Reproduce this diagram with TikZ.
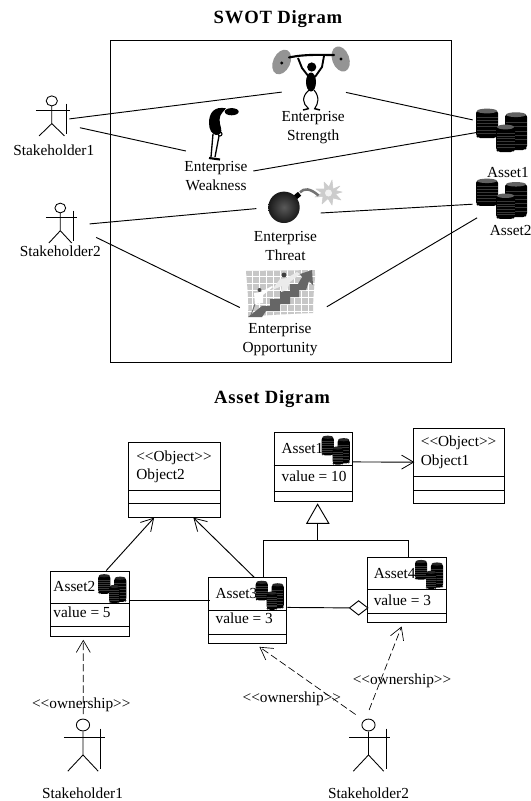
\documentclass[tikz,border=0pt]{standalone}
\usepackage{fontspec}
\setmainfont{Liberation Serif}
\usetikzlibrary{arrows.meta,calc}
\def\px{.75pt}
\tikzset{
  lbl/.style={inner sep=0pt,font=\fontsize{11.5}{13.8}\selectfont,text height=8pt,text depth=2.5pt},
  two/.style={inner sep=0pt,font=\fontsize{11.5}{14.2}\selectfont,align=center},
  ttl/.style={inner sep=0pt,font=\fontsize{14}{16}\bfseries\addfontfeature{LetterSpace=4}},
  ghost/.style={inner sep=0pt,minimum width=30*\px,minimum height=30*\px},
  classbox/.style={draw=black,line width=.7pt,inner sep=0pt,fill=white},
  conn/.style={draw=black,line width=.7pt},
  open/.style={conn,-{Straight Barb[length=9pt,width=10.5pt,line width=.6pt]}},
  dep/.style={draw=black,line width=.5pt,-{Straight Barb[length=9pt,width=10.5pt,line width=.5pt]},dash pattern=on 5.5pt off 2.5pt},
  fig/.style={draw=black,line width=.65pt}
}
\newcommand\actorfig[5]{%
  \draw[fig] (#1,#2) ellipse [x radius=#5,y radius=#5*.9];
  \begin{scope}[shift={(#1,#2)},xscale=#3,yscale=#4]
    \draw[fig] (0,5) -- (0,22.7) -- (-12.7,35);
    \draw[fig] (0,22.7) -- (12.7,35);
    \draw[fig] (-16,9.5) -- (18,9.5);
    \draw[fig] (14.6,2.7) -- (14.6,33);
  \end{scope}}
\newcommand\stack[5]{% x0 x1 y0 y1 topcolour
  \fill[black,rounded corners=1.6] (#1,#3+2) -- (#1,#4-2) -- (#1+2,#4) -- (#2-2,#4) -- (#2,#4-2) -- (#2,#3+2) -- cycle;
  \fill[#5] ({(#1+#2)/2},#3+2) ellipse [x radius={(#2-#1)/2-1},y radius=2.4];
  \foreach \k in {1,...,6}{\draw[black!78,line width=.2pt] (#1+.5,{#3+5+(#4-#3-7)*\k/7}) -- (#2-.5,{#3+5+(#4-#3-7)*\k/7});}}
\newcommand\coinsfig[5]{%
  \begin{scope}[shift={(#1,#2)},xscale=#3,yscale=#4]
    \stack{0}{22}{0}{29}{#5}
    \stack{29}{51}{3.7}{41}{#5}
    \stack{20}{39}{16}{43}{#5}
  \end{scope}}
\newcommand\divider[2]{\draw[classbox,fill=none] ([yshift=-#2*\px]#1.north west) -- ([yshift=-#2*\px]#1.north east);}
\begin{document}
\begin{tikzpicture}[x=.75pt,y=-.75pt]
\useasboundingbox (0,0) rectangle (531,801);
\fill[white] (0,0) rectangle (531,801);

%% ---------- SWOT ----------
\node[ttl] (swotTitle) at (278,18.6) {SWOT Digram};
\node[draw=black,line width=.8pt,inner sep=0pt,minimum width=341.4*\px,minimum height=322.7*\px] (frame) at (281,201.4) {};

\node[ghost] (a1) at (52,118) {};
\node[ghost] (a2) at (60,226) {};
\node[ghost] (strength) at (313,75) {};
\node[ghost] (coinsA) at (502,130) {};
\node[ghost] (coinsB) at (502,199) {};
\node[ghost] (threat) at (292,205) {};
\node[ghost] (opp) at (281,294) {};

\actorfig{51.8}{100.9}{1}{1}{5.6}
\actorfig{60.3}{208}{.9}{1}{5.4}
\node[lbl] (s1lab) at (53.8,151.5) {Stakeholder1};
\node[lbl] (s2lab) at (60.3,253) {Stakeholder2};

% weightlifter
\begin{scope}
  \fill[black!42] (281.7,62) ellipse [x radius=8.5,y radius=13,rotate=-25];
  \fill[black!42] (340.7,59) ellipse [x radius=8.5,y radius=13,rotate=20];
  \fill[black] (281.8,63) circle [radius=1.6];
  \fill[black] (341,59) circle [radius=1.6];
  \draw[black,line width=1.6pt,line cap=round] (289,57.5) .. controls (305,54) and (320,55) .. (334,55);
  \draw[black,line width=1.4pt,line join=round] (298,58) -- (302,68) -- (309,77);
  \draw[black,line width=1.4pt,line join=round] (324,56) -- (322,67) -- (315,77);
  \fill[black] (311.7,67) circle [radius=4.6];
  \fill[black] (311,82) ellipse [x radius=5,y radius=9.5];
  \draw[black,line width=.8pt] (309,90) .. controls (301,97) and (303,104) .. (308,108);
  \draw[black,line width=.8pt] (314,90) .. controls (320,97) and (318,104) .. (315,108);
  \draw[black,line width=1.1pt] (303,110) -- (309,108.5);
  \draw[black,line width=1.1pt] (314,108.5) -- (320,110);
\end{scope}
\node[two] (strengthLab) at (313.2,128) {Enterprise\\Strength};

% bowed figure
\begin{scope}
  \fill[black] (231.7,111.7) ellipse [x radius=7,y radius=3.6];
  \fill[black] (226,108.3) .. controls (214,106) and (209,113) .. (209,123)
     .. controls (209,130) and (212,134) .. (216,135)
     .. controls (221,135) and (222,132) .. (221,128)
     .. controls (219,122) and (219,116) .. (222,113) -- cycle;
  \draw[black,line width=.8pt] (220,134) circle [radius=2];
  \draw[black,line width=1pt] (213,134) -- (211,157);
  \draw[black,line width=1pt] (219,136) -- (215,157);
  \draw[black,line width=1.6pt] (209,158) -- (220,159.5);
\end{scope}
\node[two] (weakness) at (216,176.5) {Enterprise\\Weakness};

\coinsfig{476}{109}{1}{1}{black!62}
\coinsfig{476}{179}{1}{.93}{black!62}
\node[lbl] (asset1lab) at (508,174) {Asset1};
\node[lbl] (asset2lab) at (510.7,232.3) {Asset2};

% bomb
\begin{scope}
  \fill[black!20,line join=round,draw=black!20,line width=.4pt]
    (340,186) -- (333,189) -- (332,180) -- (329,187) -- (324,182) -- (324.5,189) -- (316,189) -- (322,193) -- (315,197)
    -- (323,196.5) -- (322,204) -- (328,198.5) -- (332,205) -- (333,198) -- (341,200) -- (335.5,194) -- (342,192) -- (335.5,190.5) -- cycle;
  \fill[black!5] (328.5,193) circle [radius=3.5];
  \draw[black!55,line width=1.9pt] (300,192.3) .. controls (304,188) and (310,188) .. (318.5,195.5);
  \fill[black,rotate around={40:(297.3,195.7)}] (294.3,193.2) rectangle (300.3,198.2);
  \shade[inner color=black!65,outer color=black!90] (284,207.3) circle [radius=15.7];
\end{scope}
\node[two] (threatLab) at (285.5,246) {Enterprise\\Threat};

% opportunity clip art
\begin{scope}
  \path[fill=black!22] (246,271) -- (316,270) .. controls (314,285) and (313,300) .. (313,313)
     .. controls (290,314) and (265,315) .. (248,317) .. controls (249,300) and (247,285) .. (246,271) -- cycle;
  \begin{scope}
    \clip (246,271) -- (316,270) -- (313,313) -- (248,317) -- cycle;
    \foreach \gx in {252,259,...,315}{\draw[white,line width=.6pt] (\gx,268) -- (\gx,318);}
    \foreach \gy in {276,283,...,318}{\draw[white,line width=.6pt] (244,\gy) -- (318,\gy);}
  \end{scope}
  \fill[black!60] (248,317) -- (262,306) -- (270,306) -- (270,299) -- (280,299) -- (280,291) -- (290,291) -- (290,284)
     -- (298,284) -- (302,277) -- (300,274) -- (312,270) -- (313,285) -- (309,281) -- (306,290) -- (299,290) -- (299,297) -- (290,297) -- (290,304) -- (280,304) -- (280,311) -- (266,311) -- (262,317) -- cycle;
  \fill[black!70] (259.5,290) circle [radius=2];
  \fill[white] (254,293) -- (261,292) -- (272,286) -- (273,287) -- (263,295) -- (263,303) -- (255,304) -- cycle;
  \draw[black!55,line width=.7pt] (255,304) -- (251,315);
  \fill[black!75] (284,275) circle [radius=2.4];
  \fill[black!8] (280,279) -- (287,278) -- (297,272) -- (300,274) -- (290,282) -- (287,290) -- (281,292) -- (282,286) -- (272,290) -- cycle;
\end{scope}
\node[two] (oppLab) at (280,339.5) {Enterprise\\Opportunity};

% SWOT connectors
\draw[conn] ([shift={(17.4,.9)}]a1.center) -- ([shift={(-31.3,17.1)}]strength.center);
\draw[conn] ([shift={(27.9,9.7)}]a1.center) -- ([shift={(-30.1,-25.5)}]weakness.center);
\draw[conn] ([shift={(33,17.4)}]strength.center) -- ([shift={(-29.3,-10.1)}]coinsA.center);
\draw[conn] ([shift={(37.3,-5.5)}]weakness.center) -- ([shift={(-24.9,2.4)}]coinsA.center);
\draw[conn] ([shift={(29.7,-2.1)}]a2.center) -- ([shift={(-35.7,3.6)}]threat.center);
\draw[conn] ([shift={(28.7,8)}]threat.center) -- ([shift={(-29.3,5.2)}]coinsB.center);
\draw[conn] ([shift={(36.2,11.4)}]a2.center) -- ([shift={(-41.2,13.5)}]opp.center);
\draw[conn] ([shift={(45.8,12.8)}]opp.center) -- ([shift={(-24.9,18.8)}]coinsB.center);

%% ---------- Asset diagram ----------
\node[ttl] (assetTitle) at (272,399) {Asset Digram};

\node[classbox,minimum width=91.4*\px,minimum height=75.2*\px] (object2) at (174.4,479.6) {};
\divider{object2}{48.8}\divider{object2}{62}
\node[lbl,anchor=west] (o2a) at (136,457.6) {<{}<Object>{}>};
\node[lbl,anchor=west] (o2b) at (136,476.2) {Object2};

\node[classbox,minimum width=78.5*\px,minimum height=68.5*\px] (asset1) at (313.25,467.05) {};
\divider{asset1}{33.2}\divider{asset1}{59.6}
\node[lbl,anchor=west] (a1t) at (281.4,450) {Asset1};
\node[lbl,anchor=west] (a1v) at (281.4,477.5) {value = 10};
\coinsfig{321.7}{435.9}{.55}{.67}{black!85}

\node[classbox,minimum width=91.1*\px,minimum height=74.9*\px] (object1) at (459.35,465.55) {};
\divider{object1}{48.8}\divider{object1}{62.7}
\node[lbl,anchor=west] (o1a) at (420.6,443) {<{}<Object>{}>};
\node[lbl,anchor=west] (o1b) at (420.6,462.3) {Object1};

\node[classbox,minimum width=78.5*\px,minimum height=65.2*\px] (asset2) at (89.75,603.6) {};
\divider{asset2}{33.2}\divider{asset2}{56.4}
\node[lbl,anchor=west] (a2t) at (53.2,588) {Asset2};
\node[lbl,anchor=west] (a2v) at (53.2,613.5) {value = 5};
\coinsfig{98.2}{574.4}{.55}{.67}{black!85}

\node[classbox,minimum width=78.5*\px,minimum height=65.2*\px] (asset3) at (247.55,610.4) {};
\divider{asset3}{32.8}\divider{asset3}{56.7}
\node[lbl,anchor=west] (a3t) at (215.4,595) {Asset3};
\node[lbl,anchor=west] (a3v) at (215.4,619.6) {value = 3};
\coinsfig{255.7}{581}{.55}{.67}{black!85}

\node[classbox,minimum width=78.2*\px,minimum height=65.3*\px] (asset4) at (406.9,589.75) {};
\divider{asset4}{33.2}\divider{asset4}{56.4}
\node[lbl,anchor=west] (a4t) at (373.5,574.4) {Asset4};
\node[lbl,anchor=west] (a4v) at (373.5,602.2) {value = 3};
\coinsfig{415}{560.2}{.55}{.67}{black!85}

% generalisation
\coordinate (genTip) at (317.6,504.3);
\coordinate (genBus) at (317.6,540.5);
\draw[conn] (genTip) -- ++(-10.8,19) -- ++(22,0) -- cycle;
\draw[conn] ([yshift=-19*\px]genTip) -- (genBus);
\draw[conn] (genBus) -| ([xshift=55.2*\px]asset3.north west);
\draw[conn] (genBus) -| ([xshift=40.9*\px]asset4.north west);

% associations
\draw[open] ([yshift=-29.6*\px]asset1.north east) -- ([shift={(1,34.5)}]object1.north west);
\draw[open] ([xshift=56.2*\px]asset2.north west) -- ([xshift=-20.3*\px]object2.south);
\draw[open] ([xshift=46.4*\px]asset3.north west) -- ([xshift=19*\px]object2.south);
\draw[conn] ([yshift=-29.8*\px]asset2.north east) -- ([shift={(1.7,23)}]asset3.north west);
\coordinate (aggr) at (358.6,607.9);
\draw[conn] ([yshift=-30.1*\px]asset3.north east) -- ([xshift=-9.1*\px]aggr);
\draw[conn,fill=white] ([xshift=-9.1*\px]aggr) -- ([yshift=7.1*\px]aggr) -- ([xshift=9.2*\px]aggr) -- ([yshift=-7.1*\px]aggr) -- cycle;

% actors
\node[ghost] (s1) at (83,745) {};
\node[ghost] (s2) at (362,745) {};
\actorfig{83}{725}{1.2}{1.32}{6.6}
\actorfig{368.5}{725}{1.2}{1.32}{6.6}
\node[lbl] (s1bot) at (82.5,795) {Stakeholder1};
\node[lbl] (s2bot) at (368.5,795) {Stakeholder2};

% dependencies
\draw[dep] ([shift={(.3,-30.9)}]s1.center) -- ([shift={(-6.45,3.1)}]asset2.south);
\draw[dep] ([shift={(-6.4,-30.5)}]s2.center) -- ([shift={(11.85,3.4)}]asset3.south);
\draw[dep] ([shift={(7.1,-35)}]s2.center) -- ([shift={(-5.3,3.6)}]asset4.south);
\node[lbl] (own1) at (81.3,705) {<{}<ownership>{}>};
\node[lbl] (own2) at (291.9,699.2) {<{}<ownership>{}>};
\node[lbl] (own3) at (402,680.9) {<{}<ownership>{}>};
\end{tikzpicture}
\end{document}
